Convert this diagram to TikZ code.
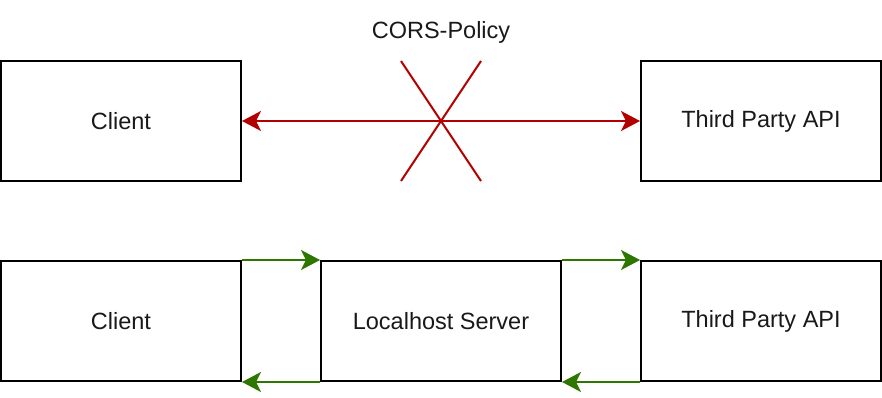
\documentclass[tikz,border=0pt]{standalone}
\usepackage{fontspec}
\setmainfont{Liberation Sans}
\usetikzlibrary{arrows.meta}
\definecolor{blockred}{HTML}{B20000}
\definecolor{okgreen}{HTML}{2D7600}
\begin{document}
\begin{tikzpicture}[x=1pt,y=-1pt,
  lbl/.style={font=\fontsize{23.5}{28}\selectfont,text=black!90},
  box/.style={draw=black,line width=2pt,minimum width=240pt,minimum height=120pt,
    inner sep=0pt,lbl},
  head/.tip={Stealth[length=19pt,width=20pt,inset=5pt]},
  blocked/.style={draw=blockred,line width=2pt},
  okflow/.style={draw=okgreen,line width=2pt,-head}]
  \useasboundingbox (0,0) rectangle (882,398);
  % direct request, blocked by the browser
  \node[box] (client1) at (121,121) {Client};
  \node[box] (api1) at (761,121) {Third Party API};
  \node[lbl] (cors) at (441,32) {CORS-Policy};
  \draw[blocked,head-head] (client1.east) -- (api1.west);
  \coordinate (xa) at (401,61);
  \coordinate (xb) at (481,181);
  \coordinate (xc) at (481,61);
  \coordinate (xd) at (401,181);
  \draw[blocked] (xa) -- (xb);
  \draw[blocked] (xc) -- (xd);
  % request relayed through a local server
  \node[box] (client2) at (121,321) {Client};
  \node[box] (server) at (441,321) {Localhost Server};
  \node[box] (api2) at (761,321) {Third Party API};
  \draw[okflow] (client2.north east) -- (server.north west);
  \draw[okflow] (server.north east) -- (api2.north west);
  \draw[okflow] (server.south west) -- (client2.south east);
  \draw[okflow] (api2.south west) -- (server.south east);
\end{tikzpicture}
\end{document}
